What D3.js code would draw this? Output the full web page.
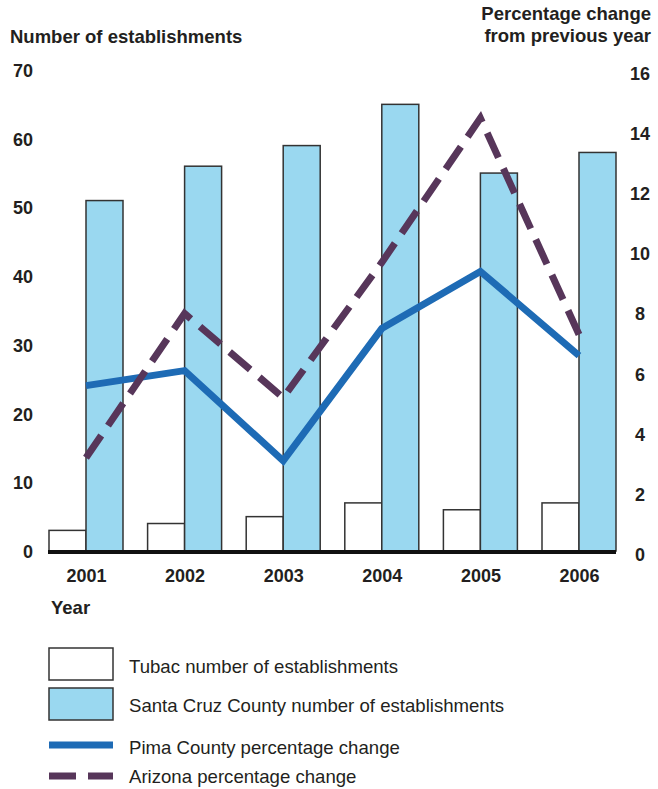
<!DOCTYPE html>
<html>
<head>
<meta charset="utf-8" />
<title>Establishments</title>
<style>
  body { margin: 0; background: #fff; }
  text { font-family: "Liberation Sans", Arial, sans-serif; fill: #231f20; }
</style>
</head>
<body>
<div id="chart"></div>
<script src="https://d3js.org/d3.v7.min.js"></script>
<script>
(function(d3) {
'use strict';
var years = ['2001', '2002', '2003', '2004', '2005', '2006'];
var tubac = [3, 4, 5, 7, 6, 7];
var santaCruz = [51, 56, 59, 65, 55, 58];
var pima = [5.5, 6.0, 3.0, 7.4, 9.3, 6.5];
var arizona = [3.1, 7.9, 5.1, 9.6, 14.4, 7.2];
var leftTicks = [0, 10, 20, 30, 40, 50, 60, 70];
var rightTicks = [0, 2, 4, 6, 8, 10, 12, 14, 16];

var width = 658;
var height = 789;
var barW = 37;

var svg = d3.select('#chart')
          .append('svg')
          .attr('width', width)
          .attr('height', height);

var x = d3.scalePoint().domain(years).range([86, 579]);
var yL = d3.scaleLinear().domain([0, 70]).range([551, 70]);
var yR = d3.scaleLinear().domain([0, 16]).range([551, 70]);

// bars
svg.selectAll('rect.tubac')
  .data(tubac)
  .enter()
  .append('rect')
  .attr('class', 'tubac')
  .attr('x', function(d, i) { return x(years[i]) - barW; })
  .attr('y', function(d) { return yL(d); })
  .attr('width', barW)
  .attr('height', function(d) { return yL(0) - yL(d); })
  .attr('fill', '#fff')
  .attr('stroke', '#333')
  .attr('stroke-width', 1.5);

svg.selectAll('rect.sc')
  .data(santaCruz)
  .enter()
  .append('rect')
  .attr('class', 'sc')
  .attr('x', function(d, i) { return x(years[i]); })
  .attr('y', function(d) { return yL(d); })
  .attr('width', barW)
  .attr('height', function(d) { return yL(0) - yL(d); })
  .attr('fill', '#9ad8f0')
  .attr('stroke', '#333')
  .attr('stroke-width', 1.5);

// lines
var line = d3.line()
  .x(function(d, i) { return x(years[i]); })
  .y(function(d) { return yR(d); });

svg.append('path')
  .attr('d', line(pima))
  .attr('fill', 'none')
  .attr('stroke', '#1e6bb5')
  .attr('stroke-width', 7);

svg.append('path')
  .attr('d', line(arizona))
  .attr('fill', 'none')
  .attr('stroke', '#57365a')
  .attr('stroke-width', 7)
  .attr('stroke-dasharray', '27,12');

// baseline
svg.append('line')
  .attr('x1', 48).attr('x2', 616)
  .attr('y1', yL(0) + 1).attr('y2', yL(0) + 1)
  .attr('stroke', '#111')
  .attr('stroke-width', 4);

// axes
var gx = svg.append('g')
  .attr('transform', 'translate(0,' + 566 + ')')
  .call(d3.axisBottom(x).tickSize(0));
gx.select('.domain').remove();
gx.selectAll('text')
  .attr('dy', '0.71em')
  .style('font-size', '18px')
  .style('font-weight', 'bold')
  .style('font-family', '"Liberation Sans", Arial, sans-serif')
  .attr('fill', '#231f20');

var gl = svg.append('g')
  .attr('transform', 'translate(33,0)')
  .call(d3.axisLeft(yL).tickValues(leftTicks).tickSize(0).tickPadding(0));
gl.select('.domain').remove();
gl.selectAll('text')
  .attr('dy', '0.36em')
  .style('font-size', '18px')
  .style('font-weight', 'bold')
  .style('font-family', '"Liberation Sans", Arial, sans-serif')
  .attr('fill', '#231f20');

var gr = svg.append('g')
  .attr('transform', 'translate(640,3)')
  .call(d3.axisRight(yR).tickValues(rightTicks).tickSize(0).tickPadding(0));
gr.select('.domain').remove();
gr.selectAll('text')
  .attr('text-anchor', 'middle')
  .attr('dy', '0.36em')
  .style('font-size', '18px')
  .style('font-weight', 'bold')
  .style('font-family', '"Liberation Sans", Arial, sans-serif')
  .attr('fill', '#231f20');

// titles
svg.append('text')
  .attr('x', 10).attr('y', 43)
  .style('font-size', '18.5px').style('font-weight', 'bold')
  .text('Number of establishments');
svg.append('text')
  .attr('x', 651).attr('y', 20)
  .attr('text-anchor', 'end')
  .style('font-size', '18.5px').style('font-weight', 'bold')
  .text('Percentage change');
svg.append('text')
  .attr('x', 651).attr('y', 42)
  .attr('text-anchor', 'end')
  .style('font-size', '18.5px').style('font-weight', 'bold')
  .text('from previous year');
svg.append('text')
  .attr('x', 51).attr('y', 614)
  .style('font-size', '18.5px').style('font-weight', 'bold')
  .text('Year');

// legend
var lg = svg.append('g');
lg.append('rect')
  .attr('x', 49).attr('y', 648).attr('width', 64).attr('height', 32)
  .attr('fill', '#fff').attr('stroke', '#333').attr('stroke-width', 1.5);
lg.append('rect')
  .attr('x', 49).attr('y', 688).attr('width', 64).attr('height', 32)
  .attr('fill', '#9ad8f0').attr('stroke', '#333').attr('stroke-width', 1.5);
lg.append('line')
  .attr('x1', 49).attr('x2', 113).attr('y1', 745).attr('y2', 745)
  .attr('stroke', '#1e6bb5').attr('stroke-width', 7);
lg.append('line')
  .attr('x1', 49).attr('x2', 113).attr('y1', 776).attr('y2', 776)
  .attr('stroke', '#57365a').attr('stroke-width', 7)
  .attr('stroke-dasharray', '27,12');

var legendLabels = ['Tubac number of establishments',
  'Santa Cruz County number of establishments',
  'Pima County percentage change',
  'Arizona percentage change'];
var legendY = [666, 705, 747, 776];
lg.selectAll('text.lab')
  .data(legendLabels)
  .enter()
  .append('text')
  .attr('class', 'lab')
  .attr('x', 129)
  .attr('y', function(d, i) { return legendY[i]; })
  .attr('dy', '0.36em')
  .style('font-size', '18.6px')
  .text(function(d) { return d; });
})(window.d3);
</script>
</body>
</html>
